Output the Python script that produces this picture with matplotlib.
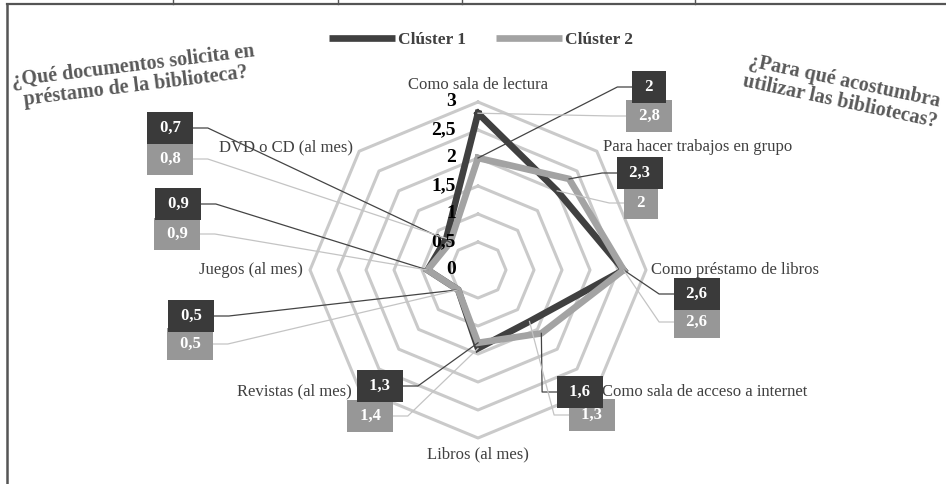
import numpy as np
import matplotlib.pyplot as plt
from matplotlib.lines import Line2D

plt.rcParams['font.family'] = ['Liberation Serif', 'DejaVu Serif']

# axes of the radar, clockwise from the top
categories = ['Como sala de lectura', 'Para hacer trabajos en grupo',
              'Como préstamo de libros', 'Como sala de acceso a internet',
              'Libros (al mes)', 'Revistas (al mes)', 'Juegos (al mes)',
              'DVD o CD (al mes)']
cluster1 = [2.8, 2.0, 2.6, 1.3, 1.4, 0.5, 0.9, 0.8]
cluster2 = [2.0, 2.3, 2.6, 1.6, 1.3, 0.5, 0.9, 0.7]
rings = [0, 0.5, 1, 1.5, 2, 2.5, 3]
ring_labels = ['0', '0,5', '1', '1,5', '2', '2,5', '3']

W, H = 946, 484
DARK = '#404040'
LIGHT = '#a3a3a3'
GRID = '#cacaca'


def fmt(v):
    return f'{v:g}'.replace('.', ',')


fig = plt.figure(figsize=(W / 100, H / 100), dpi=100)
cx, cy, rad = 478, 270, 168
ax = fig.add_axes([(cx - rad) / W, (H - cy - rad) / H, 2 * rad / W, 2 * rad / H],
                  projection='polar')
ax.set_theta_zero_location('N')
ax.set_theta_direction(-1)
ax.set_ylim(0, 3)
ax.set_xticks([])
ax.set_yticks([])
ax.grid(False)
ax.spines['polar'].set_visible(False)
ax.patch.set_alpha(0)

theta = np.linspace(0, 2 * np.pi, len(categories), endpoint=False)
closed = np.append(theta, theta[0])

for r in rings[1:]:
    ax.plot(closed, [r] * len(closed), color=GRID, lw=2.2, clip_on=False, zorder=1)

ax.plot(closed, cluster1 + cluster1[:1], color=DARK, lw=4.8, clip_on=False,
        zorder=3, solid_joinstyle='miter')
ax.plot(closed, cluster2 + cluster2[:1], color=LIGHT, lw=4.8, clip_on=False,
        zorder=4, solid_joinstyle='miter')

for r, lbl in zip(rings, ring_labels):
    ax.annotate(lbl, xy=(0, r), xytext=(-22, 0), textcoords='offset pixels',
                ha='right', va='center', fontsize=14, fontweight='bold',
                color='black', zorder=6, annotation_clip=False)

# category labels around the outer ring
cat_offsets = [((0, 17), 'center'), ((6, 4), 'left'), ((5, 0), 'left'),
               ((5, -3), 'left'), ((0, -16), 'center'), ((-7, -3), 'right'),
               ((-7, 0), 'right'), ((-6, 4), 'right')]
for t, name, (off, ha) in zip(theta, categories, cat_offsets):
    ax.annotate(name, xy=(t, 3), xytext=off, textcoords='offset pixels',
                ha=ha, va='center', fontsize=12, color=DARK,
                annotation_clip=False)

# data label boxes (image pixel centres)
dark_pos = [(649, 87), (640, 173), (697, 294), (580, 392),
            (380, 386), (191, 316), (178, 204), (170, 128)]
light_pos = [(649, 116), (641, 203), (697, 322), (592, 415),
             (370, 416), (190, 344), (177, 234), (170, 159)]

boxes = []
for values, positions, fc, lc, z in [(cluster2, dark_pos, '#3a3a3a', '#444444', 5),
                                     (cluster1, light_pos, '#979797', '#c4c4c4', 4)]:
    for t, v, (px, py) in zip(theta, values, positions):
        txt = fig.text(px / W, 1 - py / H, ' ' + fmt(v) + ' ', ha='center', va='center',
                       fontsize=12, fontweight='bold', color='white', zorder=z,
                       bbox=dict(boxstyle='square,pad=0.5', fc=fc, ec='none'))
        boxes.append((txt, t, v, lc))

fig.canvas.draw()
inv = fig.transFigure.inverted()
for txt, t, v, lc in boxes:
    bb = txt.get_bbox_patch().get_window_extent()
    vx, vy = ax.transData.transform((t, v))
    mid = (bb.y0 + bb.y1) / 2
    if (bb.x0 + bb.x1) / 2 > vx:
        pts = [(bb.x0, mid), (bb.x0 - 15, mid), (vx, vy)]
    else:
        pts = [(bb.x1, mid), (bb.x1 + 15, mid), (vx, vy)]
    pts = inv.transform(pts)
    fig.add_artist(Line2D(pts[:, 0], pts[:, 1], color=lc, lw=0.9,
                          transform=fig.transFigure, zorder=2))

# legend
handles = [Line2D([], [], color=DARK, lw=4.8, solid_capstyle='butt'),
           Line2D([], [], color=LIGHT, lw=4.8, solid_capstyle='butt')]
fig.legend(handles, ['Clúster 1', 'Clúster 2'], loc='center',
           bbox_to_anchor=(481 / W, 1 - 40 / H), ncol=2, frameon=False,
           handlelength=3.8, handletextpad=0.2, columnspacing=1.7,
           prop={'size': 12.5, 'weight': 'bold'}, labelcolor=DARK)

# side titles
fig.text(134 / W, 1 - 76 / H, '¿Qué documentos solicita en\npréstamo de la biblioteca?',
         ha='center', va='center', rotation=7, rotation_mode='anchor',
         fontsize=14.5, fontweight='bold', color='#595959', linespacing=1.05)
fig.text(842 / W, 1 - 92 / H, '¿Para qué acostumbra\nutilizar las bibliotecas?',
         ha='center', va='center', rotation=-12, rotation_mode='anchor',
         fontsize=14.5, fontweight='bold', color='#595959', linespacing=1.05)

# frame lines of the surrounding table
border = '#555555'
fig.add_artist(Line2D([7 / W, 1], [1 - 4 / H, 1 - 4 / H], color=border, lw=1.6,
                      transform=fig.transFigure))
fig.add_artist(Line2D([7 / W, 7 / W], [0, 1 - 4 / H], color=border, lw=1.8,
                      transform=fig.transFigure))
for x in [173, 338, 462, 695]:
    fig.add_artist(Line2D([x / W, x / W], [1, 1 - 4 / H], color=border, lw=1.0,
                          transform=fig.transFigure))

fig.savefig('out.png', dpi=100)
